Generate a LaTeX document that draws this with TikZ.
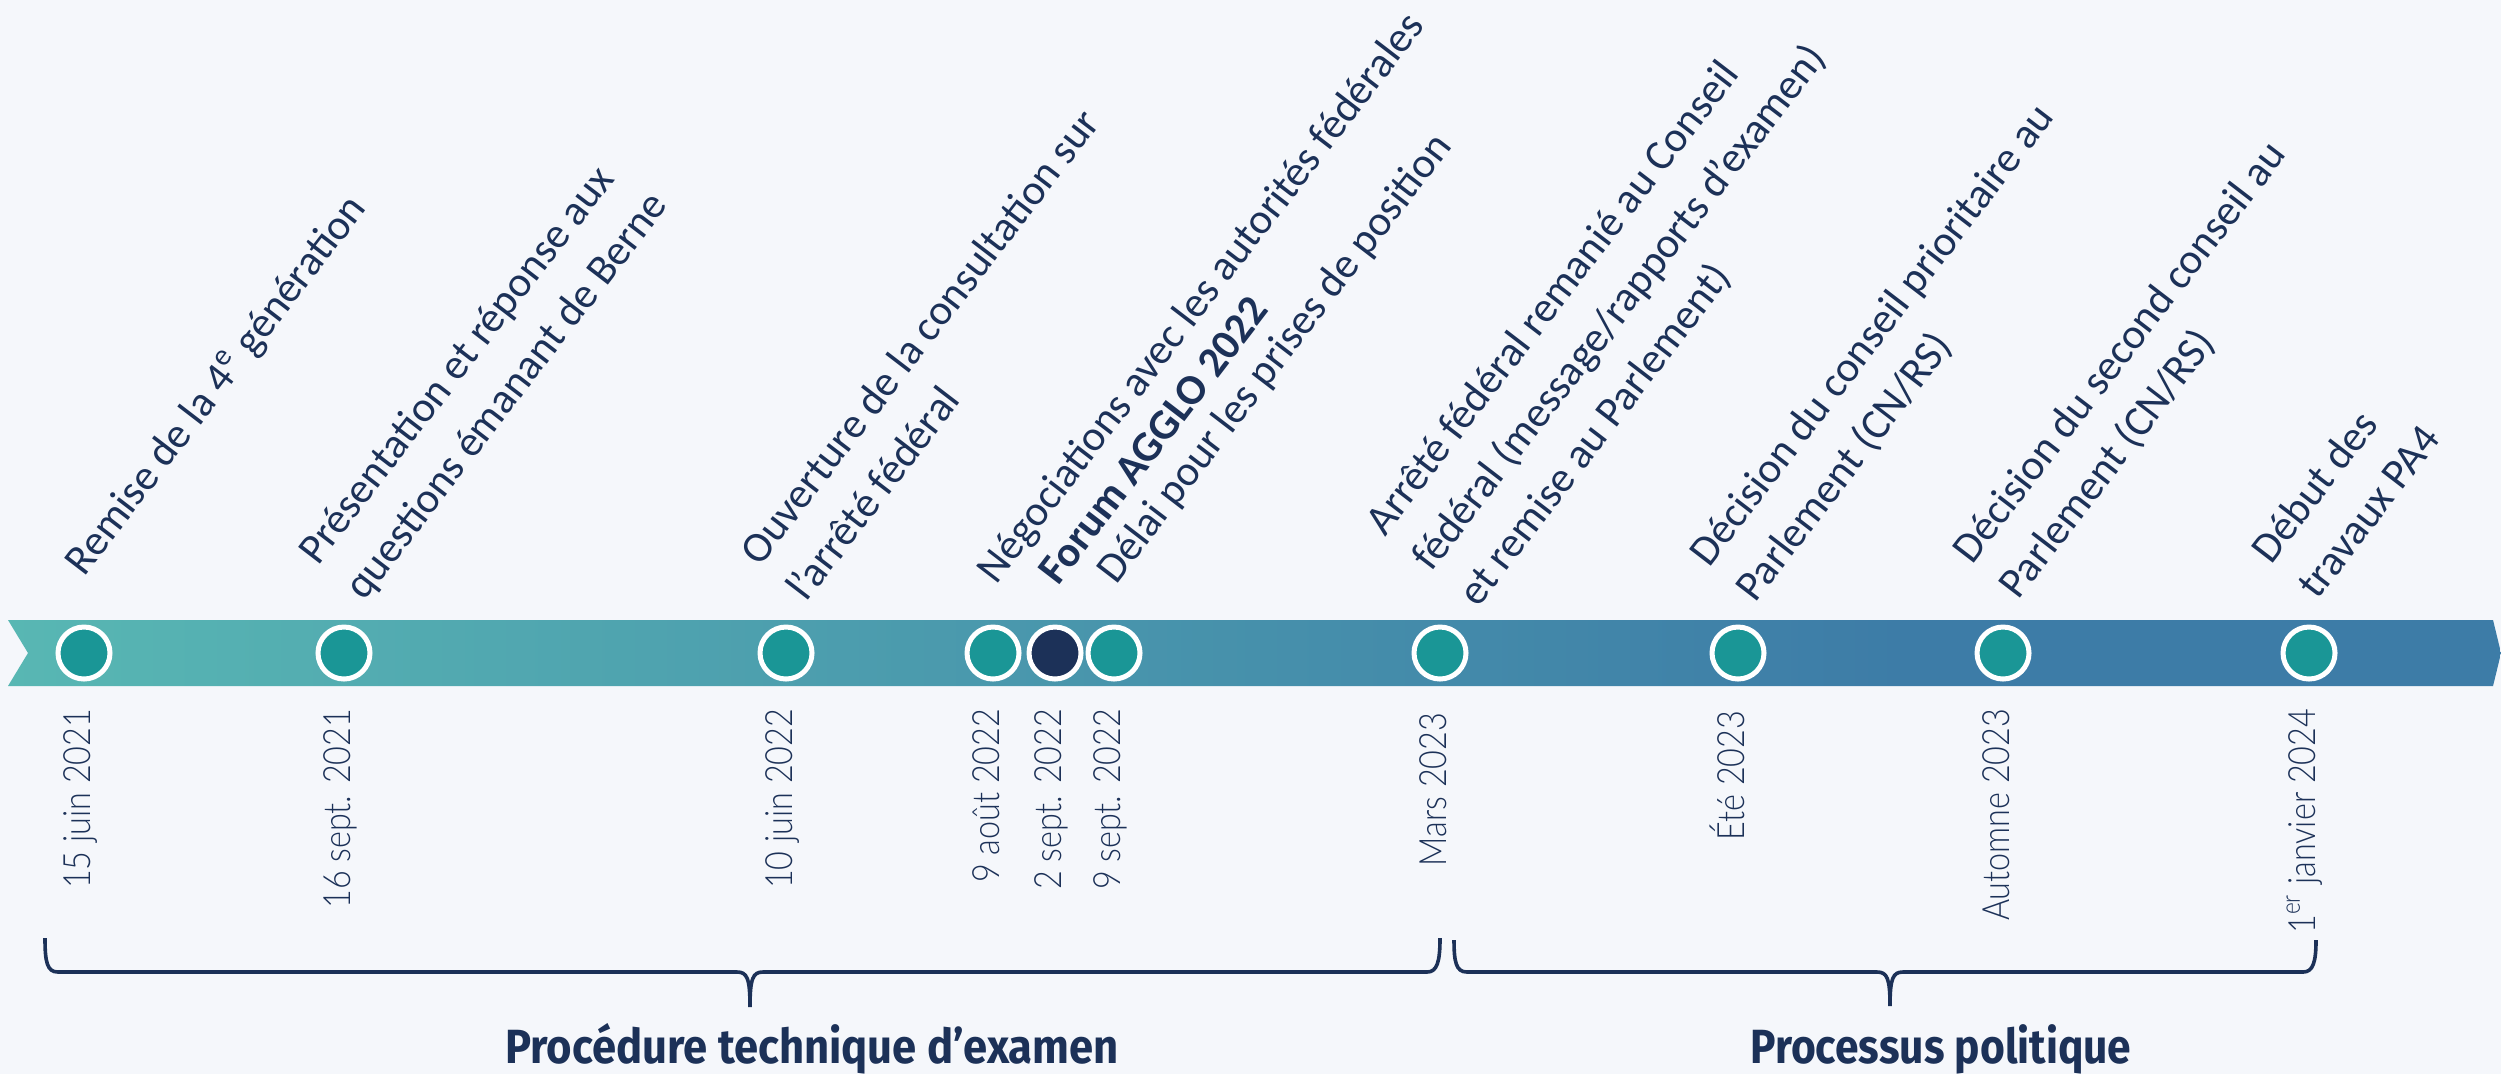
\documentclass[tikz,border=0pt]{standalone}
\usepackage{fontspec}
\usepackage{graphicx}
\setmainfont{Carlito}
\IfFontExistsTF{Lato Light}{\newfontfamily\datefont{Lato Light}}{\newfontfamily\datefont{Liberation Sans}}
\newfontfamily\titlefont{Fira Sans}
\definecolor{bg}{HTML}{F5F7FB}
\definecolor{navy}{HTML}{1C3158}
\definecolor{dotteal}{HTML}{1A9696}
\definecolor{barL}{HTML}{58B7B3}
\definecolor{barR}{HTML}{3D7CA7}
\pgfdeclarehorizontalshading{barshade}{100bp}{color(0bp)=(barL); color(25bp)=(barL); color(63bp)=(barR); color(100bp)=(barR)}
\newcommand\evlines[1]{\begin{tabular}[t]{@{}l@{}}#1\end{tabular}}
\newcommand\dt[1]{\scalebox{0.86}[1]{#1}}
\tikzset{
  dot/.style={circle, fill=dotteal, draw=white, line width=1.25pt, minimum size=13pt, inner sep=0pt},
  keydot/.style={dot, fill=navy},
  datelbl/.style={rotate=90, anchor=base east, inner sep=0pt, text=navy, font=\datefont\fontsize{9.4}{11}\selectfont},
  evtlbl/.style={rotate=52.5, anchor=base west, inner sep=0pt, text=navy, font=\fontsize{10.7}{14.6}\selectfont},
  phase/.style={anchor=base, inner sep=0pt, text=navy, font=\titlefont\bfseries\fontsize{12}{14}\selectfont},
  brace/.style={draw=navy, line width=0.9pt}
}
\begin{document}
\begin{tikzpicture}[x=0.25pt, y=-0.25pt]
\fill[bg] (0,0) rectangle (2501,1074);
\useasboundingbox (0,0) rectangle (2501,1074);
% bar
\shade[shading=barshade] (8,620) -- (2493,620) -- (2501,653) -- (2493,686) -- (8,686) -- (28,653) -- cycle;
% dots
\node[dot] (d1) at (84,653) {};
\node[dot] (d2) at (344,653) {};
\node[dot] (d3) at (786,653) {};
\node[dot] (d4) at (993,653) {};
\node[keydot] (d5) at (1055,653) {};
\node[dot] (d6) at (1114,653) {};
\node[dot] (d7) at (1440,653) {};
\node[dot] (d8) at (1738,653) {};
\node[dot] (d9) at (2003,653) {};
\node[dot] (d10) at (2309,653) {};
% dates
\node[datelbl] (t1) at (90,708) {\dt{15 juin 2021}};
\node[datelbl] (t2) at (350,708) {\dt{16 sept. 2021}};
\node[datelbl] (t3) at (792,708) {\dt{10 juin 2022}};
\node[datelbl] (t4) at (999,708) {\dt{9 août 2022}};
\node[datelbl] (t5) at (1061,708) {\dt{2 sept. 2022}};
\node[datelbl] (t6) at (1120,708) {\dt{9 sept. 2022}};
\node[datelbl] (t7) at (1446,712) {\dt{Mars 2023}};
\node[datelbl] (t8) at (1744,710) {\dt{Été 2023}};
\node[datelbl] (t9) at (2009,708) {\dt{Automne 2023}};
\node[datelbl] (t10) at (2315,708) {\dt{1\textsuperscript{er} janvier 2024}};
% events
\node[evtlbl] (e1) at (84,578) {Remise de la 4\textsuperscript{e} génération};
\node[evtlbl] (e2) at (318,567) {\evlines{Présentation et réponse aux\\questions émanant de Berne}};
\node[evtlbl] (e3) at (760,568) {\evlines{Ouverture de la consultation sur\\l’arrêté fédéral}};
\node[evtlbl] (e4) at (996,586) {Négociations avec les autorités fédérales};
\node[evtlbl] (e5) at (1058,587) {\bfseries Forum AGGLO 2022};
\node[evtlbl] (e6) at (1116,586) {Délai pour les prises de position};
\node[evtlbl] (e7) at (1385,538) {\evlines{Arrêté fédéral remanié au Conseil\\fédéral (message/rapports d’examen)\\et remise au Parlement)}};
\node[evtlbl] (e8) at (1709,569) {\evlines{Décision du conseil prioritaire au\\Parlement (CN/RS)}};
\node[evtlbl] (e9) at (1972,566) {\evlines{Décision du second conseil au\\Parlement (CN/RS)}};
\node[evtlbl] (e10) at (2271,566) {\evlines{Début des\\travaux PA4}};
% braces
\coordinate (b1l) at (45,938);
\coordinate (b1r) at (1440,938);
\coordinate (b1t) at (750,1007);
\coordinate (b2l) at (1454,940);
\coordinate (b2r) at (2316,940);
\coordinate (b2t) at (1890,1006);
\draw[brace] (b1l) .. controls (45,962) and (47,972) .. (58,972) -- (737,972)
  .. controls (747,972) and (750,978) .. (b1t)
  .. controls (750,978) and (753,972) .. (763,972) -- (1427,972)
  .. controls (1437,972) and (1440,962) .. (b1r);
\draw[brace] (b2l) .. controls (1454,962) and (1456,972) .. (1467,972) -- (1877,972)
  .. controls (1887,972) and (1890,978) .. (b2t)
  .. controls (1890,978) and (1893,972) .. (1903,972) -- (2303,972)
  .. controls (2313,972) and (2316,962) .. (b2r);
% phases
\node[phase] (p1) at (812,1063) {\resizebox{153.3pt}{\height}{Procédure technique d’examen}};
\node[phase] (p2) at (1941,1063) {\resizebox{95.2pt}{\height}{Processus politique}};
\end{tikzpicture}
\end{document}
